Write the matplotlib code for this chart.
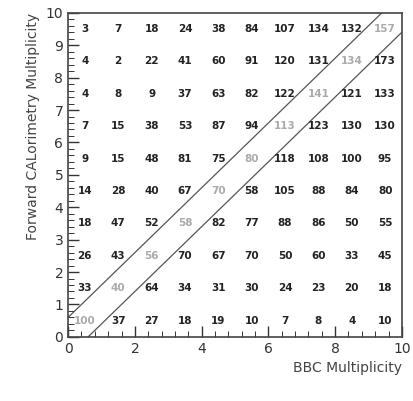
import matplotlib
matplotlib.use("Agg")
import matplotlib.pyplot as plt
import numpy as np

# Data: counts per cell, rows from top (FCAL 9-10) to bottom (FCAL 0-1)
row_9 = [3, 7, 18, 24, 38, 84, 107, 134, 132, 157]
row_8 = [4, 2, 22, 41, 60, 91, 120, 131, 134, 173]
row_7 = [4, 8, 9, 37, 63, 82, 122, 141, 121, 133]
row_6 = [7, 15, 38, 53, 87, 94, 113, 123, 130, 130]
row_5 = [9, 15, 48, 81, 75, 80, 118, 108, 100, 95]
row_4 = [14, 28, 40, 67, 70, 58, 105, 88, 84, 80]
row_3 = [18, 47, 52, 58, 82, 77, 88, 86, 50, 55]
row_2 = [26, 43, 56, 70, 67, 70, 50, 60, 33, 45]
row_1 = [33, 40, 64, 34, 31, 30, 24, 23, 20, 18]
row_0 = [100, 37, 27, 18, 19, 10, 7, 8, 4, 10]
rows = [row_0, row_1, row_2, row_3, row_4, row_5, row_6, row_7, row_8, row_9]
band = 0.6

fig = plt.figure(figsize=(4.13, 4.01), dpi=100)
ax = fig.add_axes([0.165, 0.16, 0.808, 0.808])

for j, row in enumerate(rows):
    for i, v in enumerate(row):
        col = "#aaaaaa" if i == j else "#222222"
        ax.text(i + 0.5, j + 0.5, str(v), ha="center", va="center",
                fontsize=7.5, color=col, fontweight="semibold")

xx = np.array([0, 10])
ax.plot(xx, xx + band, color="#555555", lw=0.9)
ax.plot(xx, xx - band, color="#555555", lw=0.9)

ax.set_xlim(0, 10)
ax.set_ylim(0, 10)
ax.set_xticks(range(0, 11, 2))
ax.set_xticks(np.arange(0, 10.01, 0.4), minor=True)
ax.set_yticks(range(0, 11))
ax.set_yticks(np.arange(0, 10.01, 0.2), minor=True)
ax.tick_params(which="both", direction="in", labelsize=10, colors="#333333")
ax.tick_params(which="major", length=8, width=1)
ax.tick_params(which="minor", length=4, width=0.7)
for s in ax.spines.values():
    s.set_linewidth(1.2)
    s.set_color("#444444")

ax.set_xlabel("BBC Multiplicity", fontsize=10, color="#444444", loc="right")
ax.set_ylabel("Forward CALorimetry Multiplicity", fontsize=10, color="#444444",
              loc="top")

fig.savefig("out.png", dpi=100)
